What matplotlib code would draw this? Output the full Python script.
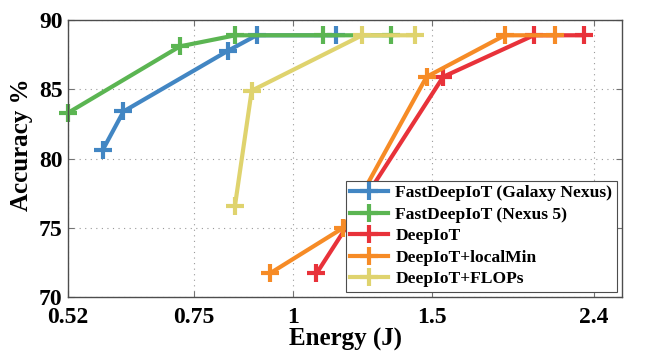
import numpy as np
import matplotlib
matplotlib.use("Agg")
import matplotlib.pyplot as plt
from matplotlib.ticker import FixedLocator, NullLocator

plt.rcParams["font.family"] = ["Liberation Serif", "DejaVu Serif"]
plt.rcParams["font.weight"] = "bold"

# energy (J) / accuracy (%)
galaxy_e = [0.575, 0.611, 0.829, 0.900, 1.133]
galaxy_a = [80.6, 83.4, 87.8, 88.9, 88.9]
nexus5_e = [0.52, 0.720, 0.846, 1.090, 1.332]
nexus5_a = [83.3, 88.1, 88.9, 88.9, 88.9]
deepiot_e = [1.071, 1.548, 2.015, 2.331]
deepiot_a = [71.7, 85.9, 88.9, 88.9]
localmin_e = [0.935, 1.158, 1.475, 1.852, 2.144]
localmin_a = [71.7, 75.0, 85.9, 88.9, 88.9]
flops_e = [0.845, 0.887, 1.223, 1.426]
flops_a = [76.6, 84.9, 88.9, 88.9]

xticks = [0.52, 0.75, 1, 1.5, 2.4]
xticklabels = ["0.52", "0.75", "1", "1.5", "2.4"]
yticks = [70, 75, 80, 85, 90]

series = [
    ("FastDeepIoT (Galaxy Nexus)", galaxy_e, galaxy_a, "#4286c3"),
    ("FastDeepIoT (Nexus 5)", nexus5_e, nexus5_a, "#5bb552"),
    ("DeepIoT", deepiot_e, deepiot_a, "#e8323a"),
    ("DeepIoT+localMin", localmin_e, localmin_a, "#f68b26"),
    ("DeepIoT+FLOPs", flops_e, flops_a, "#dfd36e"),
]

fig = plt.figure(figsize=(6.56, 3.58), dpi=100)
ax = fig.add_axes([0.1037, 0.1704, 0.8445, 0.7736])

for lab, e, a, c in series:
    ax.plot(e, a, color=c, lw=3, marker="+", ms=13, mew=3, label=lab, clip_on=False)

ax.set_xscale("log")
ax.set_xlim(0.52, 2.604)
ax.set_ylim(70, 90)
ax.xaxis.set_major_locator(FixedLocator(xticks))
ax.xaxis.set_minor_locator(NullLocator())
ax.set_xticklabels(xticklabels)
ax.set_yticks(yticks)
ax.tick_params(direction="in", top=True, right=True, labelsize=17, length=4,
               color="0.45")
ax.tick_params(axis="x", pad=7)
ax.tick_params(axis="y", pad=4)
for s in ax.spines.values():
    s.set_color("0.3")
    s.set_linewidth(1)
ax.grid(True, ls=(0, (1, 4)), color="0.6", lw=0.8)
ax.set_axisbelow(True)

ax.set_xlabel("Energy (J)", fontsize=18, fontweight="bold", labelpad=0)
ax.set_ylabel("Accuracy %", fontsize=18, fontweight="bold")
ax.yaxis.set_label_coords(-0.063, 0.55)

leg = ax.legend(loc="lower right", fontsize=12.6, handlelength=2.2, handletextpad=0.4,
                labelspacing=0.3, borderpad=0.25, fancybox=False, framealpha=1,
                borderaxespad=0.3)
leg.get_frame().set_edgecolor("0.3")
leg.get_frame().set_linewidth(0.8)

fig.savefig("out.png", dpi=100)
